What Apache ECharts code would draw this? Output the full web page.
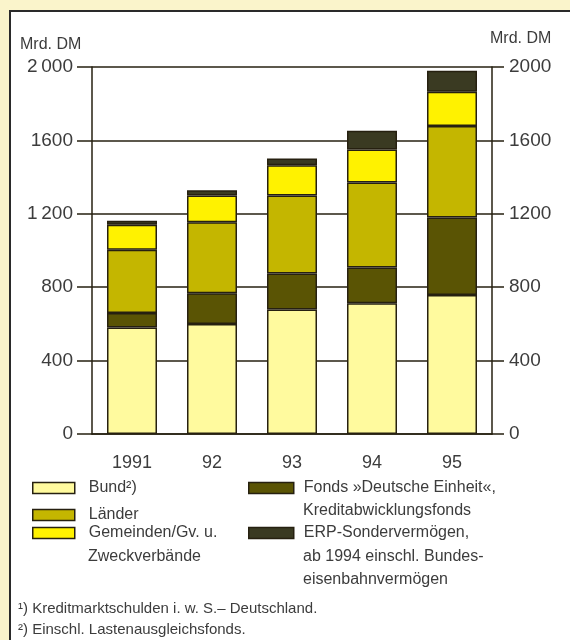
<!DOCTYPE html>
<html>
  <head>
    <meta charset="utf-8" />
    <title>Kreditmarktschulden</title>
    <script src="https://cdn.jsdelivr.net/npm/echarts@6/dist/echarts.min.js"></script>
    <style>
      body {
        margin: 0;
        background: #faf4cb;
      }
      #main {
        width: 570px;
        height: 640px;
      }
    </style>
  </head>
  <body>
    <div id="main"></div>
    <script type="text/javascript">
      // Werte in Mrd. DM
      var years = ["1991", "92", "93", "94", "95"];
      var bund = [581, 600, 679, 712, 758];
      var fonds = [78, 167, 196, 196, 422];
      var laender = [345, 387, 425, 462, 498];
      var gemeinden = [136, 146, 165, 181, 187];
      var erp = [22, 28, 36, 102, 115];

      var font = "Liberation Sans";
      var textColor = "#3c3c3c";
      var edge = "#262010";

      var myChart = echarts.init(document.getElementById("main"));

      function bar(name, data, color) {
        return {
          name: name,
          type: "bar",
          stack: "total",
          barWidth: 50,
          data: data,
          itemStyle: { color: color, borderColor: edge, borderWidth: 1.5 },
        };
      }

      function legendItem(name, left, top, w, gap) {
        return {
          data: [name],
          left: left,
          top: top,
          padding: 0,
          icon: "rect",
          itemWidth: w,
          itemHeight: 11,
          selectedMode: false,
          itemStyle: { borderColor: edge, borderWidth: 1.5 },
          textStyle: {
            fontFamily: font,
            fontSize: 16,
            color: textColor,
            padding: [0, 0, 0, gap],
          },
        };
      }

      function txt(x, y, s, size) {
        return {
          type: "text",
          left: x,
          top: y,
          style: { text: s, fontFamily: font, fontSize: size, fill: textColor },
        };
      }

      var option = {
        animation: false,
        grid: { left: 92, right: 78, top: 67, bottom: 206 },
        xAxis: {
          type: "category",
          data: years,
          axisLine: { lineStyle: { color: edge, width: 1.5 } },
          axisTick: { length: 11, lineStyle: { color: edge, width: 1.5 } },
          axisLabel: {
            margin: 20,
            fontFamily: font,
            fontSize: 18,
            color: textColor,
          },
        },
        yAxis: [
          {
            type: "value",
            min: 0,
            max: 2000,
            interval: 400,
            axisLine: { show: true, lineStyle: { color: edge, width: 1.5 } },
            axisTick: { show: true, length: 15, lineStyle: { color: edge, width: 1.5 } },
            splitLine: { lineStyle: { color: edge, width: 1.5 } },
            axisLabel: {
              margin: 19,
              fontFamily: font,
              fontSize: 19,
              color: textColor,
              formatter: function (v) {
                if (v === 2000) return "2\u2009000";
                if (v === 1200) return "1\u2009200";
                return String(v);
              },
            },
          },
          {
            type: "value",
            position: "right",
            min: 0,
            max: 2000,
            interval: 400,
            axisLine: { show: true, lineStyle: { color: edge, width: 1.5 } },
            axisTick: { show: true, length: 12, lineStyle: { color: edge, width: 1.5 } },
            splitLine: { show: false },
            axisLabel: {
              margin: 17,
              fontFamily: font,
              fontSize: 19,
              color: textColor,
              formatter: function (v) {
                return String(v);
              },
            },
          },
        ],
        legend: [
          legendItem("Bund²)", 32, 480, 42, 9),
          legendItem("Länder", 32, 507, 42, 9),
          legendItem("Gemeinden/Gv. u.", 32, 525, 42, 9),
          legendItem("Fonds »Deutsche Einheit«,", 248, 480, 45, 5),
          legendItem("ERP-Sondervermögen,", 248, 525, 45, 5),
        ],
        graphic: [
          {
            type: "rect",
            z: -10,
            shape: { x: 10, y: 11, width: 580, height: 660 },
            style: { fill: "#ffffff", stroke: "#2a2a2a", lineWidth: 2 },
          },
          txt(20, 37, "Mrd. DM", 16),
          txt(490, 31, "Mrd. DM", 16),
          txt(88, 549, "Zweckverbände", 16),
          txt(303, 503, "Kreditabwicklungsfonds", 16),
          txt(303, 549, "ab 1994 einschl. Bundes-", 16),
          txt(303, 572, "eisenbahnvermögen", 16),
          txt(18, 601, "¹) Kreditmarktschulden i. w. S.– Deutschland.", 15),
          txt(18, 622, "²) Einschl. Lastenausgleichsfonds.", 15),
        ],
        series: [
          bar("Bund²)", bund, "#fffa9e"),
          bar("Fonds »Deutsche Einheit«,", fonds, "#5a5404"),
          bar("Länder", laender, "#c4b600"),
          bar("Gemeinden/Gv. u.", gemeinden, "#fff200"),
          bar("ERP-Sondervermögen,", erp, "#3a3a22"),
        ],
      };

      myChart.setOption(option);
    </script>
  </body>
</html>
